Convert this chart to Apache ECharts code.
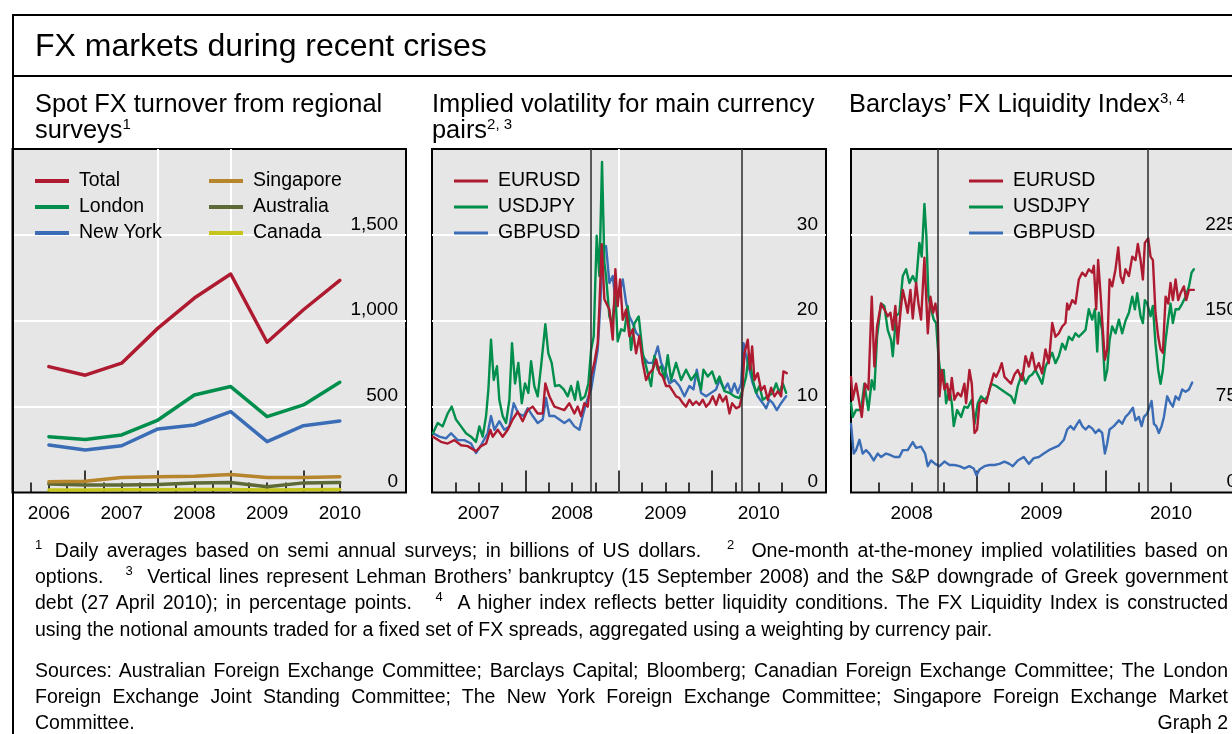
<!DOCTYPE html>
<html>
<head>
<meta charset="utf-8">
<script src="https://cdn.jsdelivr.net/npm/echarts@6/dist/echarts.min.js"></script>
<style>
html,body{margin:0;padding:0;width:1232px;height:734px;overflow:hidden;background:#fff;
  font-family:"Liberation Sans",Arial,Helvetica,sans-serif;color:#000}
#chart{position:absolute;left:0;top:0;width:1232px;height:734px}
.frame{position:absolute;left:11.5px;top:14px;width:1400px;height:900px;border-left:2px solid #000;border-top:2px solid #000;pointer-events:none}
.sep{position:absolute;left:11.5px;top:75px;width:1400px;height:2px;background:#000}
.t{position:absolute;white-space:nowrap}
.title{left:35px;top:27px;font-size:32px;line-height:36px}
.sub{top:90px;font-size:25.4px;line-height:26px}
.sub sup{font-size:15px;line-height:0;vertical-align:baseline;position:relative;top:-9px}
.fn{position:absolute;left:35px;width:1193px;font-size:19.5px;line-height:26px;text-align:justify;text-align-last:justify;white-space:nowrap}
.fn.left{text-align:left;text-align-last:left}
.fn sup{font-size:13px;line-height:0;vertical-align:baseline;position:relative;top:-8px}
.fn .row{display:flex;justify-content:space-between}
</style>
</head>
<body>
<div id="chart"></div>
<div class="frame"></div>
<div class="sep"></div>
<div class="t title">FX markets during recent crises</div>
<div class="t sub" style="left:35px">Spot FX turnover from regional<br>surveys<sup>1</sup></div>
<div class="t sub" style="left:432px">Implied volatility for main currency<br>pairs<sup>2, 3</sup></div>
<div class="t sub" style="left:849px">Barclays’ FX Liquidity Index<sup>3, 4</sup></div>

<div class="fn" style="top:537px"><sup style="margin-right:4px">1</sup> Daily averages based on semi annual surveys; in billions of US dollars. &nbsp; <sup>2</sup>&nbsp; One-month at-the-money implied volatilities based on</div>
<div class="fn" style="top:563px">options. &nbsp; <sup>3</sup>&nbsp; Vertical lines represent Lehman Brothers’ bankruptcy (15 September 2008) and the S&amp;P downgrade of Greek government</div>
<div class="fn" style="top:589px">debt (27 April 2010); in percentage points. &nbsp; <sup>4</sup>&nbsp; A higher index reflects better liquidity conditions. The FX Liquidity Index is constructed</div>
<div class="fn left" style="top:616px">using the notional amounts traded for a fixed set of FX spreads, aggregated using a weighting by currency pair.</div>
<div class="fn" style="top:657px">Sources: Australian Foreign Exchange Committee; Barclays Capital; Bloomberg; Canadian Foreign Exchange Committee; The London</div>
<div class="fn" style="top:683px">Foreign Exchange Joint Standing Committee; The New York Foreign Exchange Committee; Singapore Foreign Exchange Market</div>
<div class="fn left" style="top:709px"><div class="row"><span>Committee.</span><span>Graph 2</span></div></div>

<script>
// ---------------- Data ----------------
// Panel 1: spot FX turnover (billions of USD), semi-annual surveys
const surveyDates = [2006.5, 2007.0, 2007.5, 2008.0, 2008.5, 2009.0, 2009.5, 2010.0, 2010.5];
const turnoverTotal     = [733, 683, 753, 957, 1132, 1272, 875, 1064, 1235];
const turnoverLondon    = [325, 309, 335, 422, 568, 617, 442, 510, 642];
const turnoverNewYork   = [276, 247, 272, 370, 393, 471, 296, 389, 416];
const turnoverSingapore = [62, 66, 88, 91, 95, 105, 88, 88, 91];
const turnoverAustralia = [49, 43, 43, 47, 56, 58, 33, 56, 58];
const turnoverCanada    = [14, 14, 16, 16, 18, 18, 14, 16, 18];

// Panel 2: implied volatility (percentage points), [year, value]
const volEURUSD = [[2007.01,6.5],[2007.096,5.9],[2007.168,5.7],[2007.239,6.1],[2007.311,5.5],[2007.382,5.4],[2007.471,4.8],[2007.525,5.4],[2007.579,5.7],[2007.625,7.3],[2007.650,6.5],[2007.704,7.3],[2007.757,6.5],[2007.811,7.3],[2007.864,8.5],[2007.918,9.4],[2007.971,8.3],[2008.025,9.6],[2008.079,10.0],[2008.132,9.2],[2008.186,9.2],[2008.214,12.7],[2008.257,11.2],[2008.311,10.0],[2008.364,9.8],[2008.418,9.6],[2008.471,10.4],[2008.525,9.2],[2008.561,10.0],[2008.596,8.9],[2008.632,10.4],[2008.668,10.0],[2008.704,13.5],[2008.739,15.1],[2008.775,17.4],[2008.793,21.7],[2008.818,28.9],[2008.846,22.5],[2008.900,21.3],[2008.936,17.8],[2008.964,26.0],[2008.989,21.7],[2009.014,24.8],[2009.043,20.1],[2009.079,21.3],[2009.114,18.2],[2009.150,19.0],[2009.186,16.2],[2009.221,18.2],[2009.257,15.1],[2009.293,13.1],[2009.329,13.9],[2009.364,14.3],[2009.400,15.5],[2009.436,13.9],[2009.471,13.5],[2009.507,12.4],[2009.543,12.4],[2009.579,11.8],[2009.614,11.2],[2009.650,11.0],[2009.686,10.4],[2009.721,10.0],[2009.757,10.8],[2009.793,10.2],[2009.829,10.6],[2009.864,10.2],[2009.900,10.8],[2009.936,10.0],[2009.971,10.4],[2010.007,11.2],[2010.043,10.2],[2010.079,11.4],[2010.114,10.6],[2010.150,11.2],[2010.186,9.2],[2010.214,10.4],[2010.257,9.8],[2010.293,10.0],[2010.321,11.2],[2010.346,16.2],[2010.382,17.8],[2010.407,14.3],[2010.429,17.0],[2010.454,13.1],[2010.489,13.9],[2010.525,11.9],[2010.561,12.4],[2010.596,10.8],[2010.632,12.2],[2010.668,11.2],[2010.704,11.8],[2010.739,11.2],[2010.764,14.1],[2010.800,13.9]];
const volUSDJPY = [[2007.01,6.9],[2007.061,8.1],[2007.114,7.7],[2007.168,9.2],[2007.211,10.0],[2007.257,8.5],[2007.311,7.7],[2007.364,6.9],[2007.418,6.5],[2007.471,5.9],[2007.507,7.7],[2007.543,6.5],[2007.579,8.9],[2007.604,12.0],[2007.632,17.8],[2007.661,13.1],[2007.696,14.7],[2007.721,10.8],[2007.757,8.9],[2007.793,8.1],[2007.829,10.8],[2007.857,17.4],[2007.889,12.7],[2007.925,15.1],[2007.961,10.4],[2007.996,12.7],[2008.032,11.6],[2008.061,15.3],[2008.096,12.4],[2008.132,11.2],[2008.168,14.7],[2008.214,19.6],[2008.246,16.2],[2008.282,15.1],[2008.318,12.4],[2008.364,12.5],[2008.411,12.0],[2008.454,11.2],[2008.489,12.4],[2008.532,10.8],[2008.561,12.9],[2008.596,10.8],[2008.639,11.2],[2008.675,12.7],[2008.704,16.6],[2008.732,18.2],[2008.764,29.9],[2008.793,25.2],[2008.821,38.5],[2008.846,26.8],[2008.864,25.2],[2008.900,20.5],[2008.929,19.7],[2008.964,23.2],[2008.989,17.6],[2009.025,19.0],[2009.061,18.8],[2009.096,21.7],[2009.132,16.6],[2009.168,19.7],[2009.214,20.5],[2009.257,16.2],[2009.293,14.7],[2009.346,12.4],[2009.382,15.9],[2009.418,14.3],[2009.454,14.7],[2009.489,13.1],[2009.525,16.0],[2009.561,13.1],[2009.614,15.1],[2009.668,13.1],[2009.721,14.3],[2009.775,13.1],[2009.829,13.9],[2009.882,12.0],[2009.907,14.3],[2009.954,13.5],[2010.000,14.1],[2010.043,12.7],[2010.079,13.5],[2010.132,11.8],[2010.186,11.6],[2010.239,11.2],[2010.293,11.0],[2010.329,12.0],[2010.364,13.5],[2010.393,16.2],[2010.436,13.1],[2010.471,11.6],[2010.507,12.4],[2010.543,10.8],[2010.596,11.2],[2010.650,11.6],[2010.686,12.7],[2010.721,11.6],[2010.757,12.7],[2010.793,11.6]];
const volGBPUSD = [[2007.01,6.9],[2007.079,6.5],[2007.150,6.3],[2007.204,6.9],[2007.275,6.1],[2007.346,6.1],[2007.418,5.7],[2007.471,4.6],[2007.525,5.5],[2007.596,6.9],[2007.632,8.9],[2007.668,7.3],[2007.721,8.3],[2007.775,7.3],[2007.829,7.7],[2007.875,10.4],[2007.925,9.2],[2007.982,8.9],[2008.025,9.8],[2008.079,8.9],[2008.132,8.1],[2008.186,8.5],[2008.221,11.0],[2008.257,8.9],[2008.311,8.9],[2008.364,8.5],[2008.418,8.1],[2008.471,8.5],[2008.525,7.7],[2008.579,7.3],[2008.614,8.9],[2008.650,10.4],[2008.704,12.0],[2008.739,14.3],[2008.775,16.6],[2008.804,22.1],[2008.829,28.3],[2008.864,28.7],[2008.900,24.4],[2008.936,25.2],[2008.971,21.7],[2009.007,23.2],[2009.043,24.8],[2009.079,22.1],[2009.114,20.5],[2009.150,19.7],[2009.186,18.6],[2009.221,18.2],[2009.257,15.9],[2009.311,15.1],[2009.364,15.1],[2009.418,17.0],[2009.454,15.1],[2009.507,13.9],[2009.543,12.7],[2009.596,13.1],[2009.650,12.4],[2009.704,11.2],[2009.757,12.4],[2009.800,12.0],[2009.836,14.3],[2009.882,11.6],[2009.936,11.2],[2009.989,11.6],[2010.043,12.0],[2010.079,13.1],[2010.132,12.0],[2010.168,12.7],[2010.204,11.6],[2010.239,12.7],[2010.275,11.6],[2010.311,12.7],[2010.336,17.4],[2010.364,15.9],[2010.400,14.3],[2010.436,12.7],[2010.489,11.2],[2010.543,10.4],[2010.579,9.8],[2010.614,10.8],[2010.650,10.4],[2010.693,9.6],[2010.739,10.4],[2010.793,11.2]];

// Panel 3: Barclays FX Liquidity Index, [year, value]
const liqEURUSD = [[2008.033,101],[2008.046,81],[2008.072,95],[2008.098,78],[2008.116,66],[2008.141,95],[2008.167,90],[2008.193,171],[2008.213,110],[2008.234,145],[2008.265,165],[2008.290,160],[2008.316,154],[2008.337,157],[2008.355,142],[2008.375,163],[2008.393,130],[2008.414,157],[2008.432,177],[2008.450,168],[2008.470,157],[2008.491,177],[2008.509,152],[2008.535,183],[2008.553,165],[2008.573,151],[2008.599,205],[2008.625,139],[2008.645,171],[2008.666,157],[2008.684,165],[2008.702,151],[2008.715,84],[2008.733,107],[2008.753,90],[2008.774,95],[2008.792,81],[2008.810,100],[2008.830,81],[2008.856,87],[2008.882,84],[2008.907,95],[2008.920,78],[2008.946,107],[2008.964,95],[2008.985,52],[2009.005,55],[2009.023,78],[2009.049,81],[2009.075,78],[2009.100,90],[2009.134,104],[2009.152,101],[2009.177,107],[2009.195,113],[2009.216,101],[2009.242,98],[2009.267,95],[2009.293,103],[2009.319,107],[2009.352,98],[2009.378,119],[2009.404,110],[2009.429,122],[2009.455,107],[2009.481,113],[2009.506,104],[2009.532,125],[2009.558,113],[2009.584,148],[2009.609,136],[2009.635,139],[2009.661,145],[2009.686,148],[2009.699,165],[2009.712,160],[2009.738,168],[2009.763,165],[2009.789,186],[2009.815,192],[2009.841,189],[2009.866,195],[2009.892,192],[2009.905,198],[2009.923,160],[2009.938,203],[2009.956,174],[2009.974,142],[2009.990,116],[2010.008,125],[2010.026,186],[2010.046,180],[2010.072,195],[2010.093,214],[2010.111,189],[2010.129,183],[2010.149,195],[2010.175,189],[2010.201,206],[2010.226,203],[2010.244,217],[2010.265,203],[2010.283,186],[2010.298,218],[2010.324,222],[2010.342,206],[2010.360,203],[2010.380,157],[2010.401,136],[2010.419,125],[2010.437,122],[2010.458,171],[2010.478,165],[2010.496,183],[2010.514,168],[2010.535,186],[2010.555,168],[2010.573,174],[2010.599,180],[2010.617,168],[2010.638,177],[2010.658,177],[2010.676,177]];
const liqUSDJPY = [[2008.033,78],[2008.046,66],[2008.072,72],[2008.111,72],[2008.136,95],[2008.167,72],[2008.193,98],[2008.213,90],[2008.234,136],[2008.265,165],[2008.290,163],[2008.316,142],[2008.342,133],[2008.355,119],[2008.380,154],[2008.406,157],[2008.432,189],[2008.458,195],[2008.483,183],[2008.509,189],[2008.535,183],[2008.560,218],[2008.578,206],[2008.599,252],[2008.614,224],[2008.630,171],[2008.650,160],[2008.671,151],[2008.689,148],[2008.707,119],[2008.728,98],[2008.748,107],[2008.766,78],[2008.792,90],[2008.810,78],[2008.825,58],[2008.851,72],[2008.882,66],[2008.907,75],[2008.933,74],[2008.964,81],[2008.985,60],[2009.010,78],[2009.036,84],[2009.062,81],[2009.087,84],[2009.113,95],[2009.152,93],[2009.190,90],[2009.229,87],[2009.267,84],[2009.293,78],[2009.319,93],[2009.352,104],[2009.378,95],[2009.404,101],[2009.429,103],[2009.455,107],[2009.481,101],[2009.506,95],[2009.532,110],[2009.558,116],[2009.584,122],[2009.609,113],[2009.635,119],[2009.661,130],[2009.686,125],[2009.712,136],[2009.738,133],[2009.763,139],[2009.789,136],[2009.815,139],[2009.841,142],[2009.866,160],[2009.892,151],[2009.913,160],[2009.931,123],[2009.943,157],[2009.969,142],[2009.990,98],[2010.008,107],[2010.026,133],[2010.046,145],[2010.072,139],[2010.098,151],[2010.123,139],[2010.149,150],[2010.175,157],[2010.201,171],[2010.221,160],[2010.239,174],[2010.265,154],[2010.283,148],[2010.298,168],[2010.316,165],[2010.342,154],[2010.360,163],[2010.380,130],[2010.401,107],[2010.419,95],[2010.437,107],[2010.458,133],[2010.478,151],[2010.496,165],[2010.514,148],[2010.535,160],[2010.560,160],[2010.586,165],[2010.612,171],[2010.638,180],[2010.658,192],[2010.676,195]];
const liqGBPUSD = [[2008.033,60],[2008.054,34],[2008.072,37],[2008.098,46],[2008.123,34],[2008.149,37],[2008.175,34],[2008.208,28],[2008.239,34],[2008.265,31],[2008.303,34],[2008.329,33],[2008.368,31],[2008.406,31],[2008.432,37],[2008.470,37],[2008.509,44],[2008.535,39],[2008.573,40],[2008.604,34],[2008.625,23],[2008.650,28],[2008.681,25],[2008.715,23],[2008.753,27],[2008.792,24],[2008.830,24],[2008.869,23],[2008.907,21],[2008.946,23],[2008.979,21],[2009.000,15],[2009.023,20],[2009.062,23],[2009.100,24],[2009.139,24],[2009.177,25],[2009.216,27],[2009.254,25],[2009.280,23],[2009.319,28],[2009.365,31],[2009.404,25],[2009.442,30],[2009.481,31],[2009.519,34],[2009.558,37],[2009.596,39],[2009.635,41],[2009.674,46],[2009.699,55],[2009.725,58],[2009.750,55],[2009.776,60],[2009.794,63],[2009.815,58],[2009.841,55],[2009.866,58],[2009.892,56],[2009.918,52],[2009.943,55],[2009.969,52],[2009.990,34],[2010.008,43],[2010.026,55],[2010.059,58],[2010.098,63],[2010.123,60],[2010.149,66],[2010.175,69],[2010.206,74],[2010.226,63],[2010.252,66],[2010.273,58],[2010.291,66],[2010.316,69],[2010.350,80],[2010.368,60],[2010.386,58],[2010.406,52],[2010.427,58],[2010.445,66],[2010.470,84],[2010.496,78],[2010.514,75],[2010.535,84],[2010.560,81],[2010.586,90],[2010.612,88],[2010.638,90],[2010.663,96]];

// Event lines: Lehman bankruptcy (15 Sep 2008), S&P downgrade of Greece (27 Apr 2010)
const eventDates = [2008.705, 2010.318];

// Axis labels / ticks
const turnoverYears = [2006, 2007, 2008, 2009, 2010];
const volYears = [2007, 2008, 2009, 2010];
const liqYears = [2008, 2009, 2010];

// ---------------- Styling ----------------
const FONT = '"Liberation Sans", Arial, Helvetica, sans-serif';
const C = {
  red: '#AE1B30', green: '#008E4C', blue: '#3A6DB6',
  sing: '#B6852C', aus: '#5D6A37', can: '#C6C51E',
  bg: '#E6E6E6'
};

function quarters(from, to) {
  const a = [];
  for (let v = from; v <= to + 1e-9; v += 0.25) a.push(Math.round(v * 100) / 100);
  return a;
}

function xAxesFor(gi, min, max, majors, qFrom, qTo, years) {
  return [
    {
      type: 'value', gridIndex: gi, min, max, position: 'bottom',
      axisLine: { show: false },
      axisTick: { show: true, inside: true, length: 22, customValues: majors, lineStyle: { color: '#000', width: 1.5 } },
      axisLabel: { show: false },
      splitLine: { show: true, showMinLine: false, showMaxLine: false, lineStyle: { color: '#fff', width: 2 } }
    },
    {
      type: 'value', gridIndex: gi, min, max, position: 'bottom',
      axisLine: { show: false },
      axisTick: { show: true, inside: true, length: 10, customValues: quarters(qFrom, qTo), lineStyle: { color: '#000', width: 1.5 } },
      axisLabel: {
        show: true, customValues: years.map(y => y + 0.5), margin: 12,
        fontSize: 19, color: '#000', fontFamily: FONT,
        formatter: v => String(Math.floor(v))
      },
      splitLine: { show: false }
    }
  ];
}

function yAxisFor(gi, max, interval, fmt) {
  return {
    type: 'value', gridIndex: gi, min: 0, max, interval, position: 'right',
    axisLine: { show: false }, axisTick: { show: false },
    splitLine: { show: true, showMinLine: false, showMaxLine: false, lineStyle: { color: '#fff', width: 2 } },
    axisLabel: {
      inside: true, margin: 8, fontSize: 19, color: '#000', fontFamily: FONT,
      verticalAlign: 'bottom', padding: [0, 0, 1, 0],
      showMaxLabel: false, formatter: fmt
    }
  };
}

function line(name, data, color, width, xi, yi, extra) {
  return Object.assign({
    type: 'line', name, data, xAxisIndex: xi, yAxisIndex: yi,
    showSymbol: false, symbol: 'none', color,
    lineStyle: { color, width, join: 'round', cap: 'round' },
    animation: false, silent: true, emphasis: { disabled: true }
  }, extra || {});
}

const eventMark = {
  markLine: {
    silent: true, symbol: ['none', 'none'], label: { show: false },
    lineStyle: { color: '#2b2b2b', width: 1.5, type: 'solid' },
    emphasis: { disabled: true },
    animation: false,
    data: eventDates.map(d => ({ xAxis: d }))
  }
};

const zip = arr => surveyDates.map((d, i) => [d, arr[i]]);

const gridBase = { top: 149, height: 343.5, show: true, backgroundColor: C.bg, borderColor: '#000', borderWidth: 2, containLabel: false, outerBoundsMode: 'none' };

function legend(left, names, ih) {
  return {
    left, top: 168, orient: 'vertical', padding: 0, itemGap: 0,
    itemWidth: 34, itemHeight: ih, icon: 'rect', selectedMode: false,
    data: names,
    textStyle: { fontSize: 19.5, color: '#000', fontFamily: FONT, lineHeight: 26, padding: [0, 0, 0, 5] }
  };
}

const option = {
  animation: false,
  textStyle: { fontFamily: FONT },
  grid: [
    Object.assign({ left: 12.5, width: 393.5 }, gridBase),
    Object.assign({ left: 432, width: 394 }, gridBase),
    Object.assign({ left: 851, width: 394 }, gridBase)
  ],
  xAxis: [].concat(
    xAxesFor(0, 2006.0, 2011.41, [2007, 2008, 2009, 2010], 2006.25, 2010.5, turnoverYears),
    xAxesFor(1, 2007.0, 2011.22, [2008, 2009, 2010], 2007.25, 2010.75, volYears),
    xAxesFor(2, 2008.033, 2011.07, [2009, 2010], 2008.25, 2010.5, liqYears)
  ),
  yAxis: [
    yAxisFor(0, 2000, 500, v => v.toLocaleString('en-US')),
    yAxisFor(1, 40, 10, v => String(v)),
    yAxisFor(2, 300, 75, v => String(v))
  ],
  legend: [
    legend(35, ['Total', 'London', 'New York'], 4),
    legend(209, ['Singapore', 'Australia', 'Canada'], 4),
    legend(454, ['EURUSD', 'USDJPY', 'GBPUSD'], 3),
    legend(969, ['EURUSD', 'USDJPY', 'GBPUSD'], 3)
  ],
  series: [
    line('Canada', zip(turnoverCanada), C.can, 3.5, 0, 0),
    line('Australia', zip(turnoverAustralia), C.aus, 3.5, 0, 0),
    line('Singapore', zip(turnoverSingapore), C.sing, 3.5, 0, 0),
    line('New York', zip(turnoverNewYork), C.blue, 3.5, 0, 0),
    line('London', zip(turnoverLondon), C.green, 3.5, 0, 0),
    line('Total', zip(turnoverTotal), C.red, 3.5, 0, 0),

    line('GBPUSD', volGBPUSD, C.blue, 2.4, 2, 1, eventMark),
    line('USDJPY', volUSDJPY, C.green, 2.4, 2, 1),
    line('EURUSD', volEURUSD, C.red, 2.4, 2, 1),

    line('GBPUSD', liqGBPUSD, C.blue, 2.4, 4, 2, eventMark),
    line('USDJPY', liqUSDJPY, C.green, 2.4, 4, 2),
    line('EURUSD', liqEURUSD, C.red, 2.4, 4, 2)
  ]
};

const chart = echarts.init(document.getElementById('chart'), null, { renderer: 'canvas', width: 1232, height: 734 });
chart.setOption(option);
</script>
</body>
</html>
